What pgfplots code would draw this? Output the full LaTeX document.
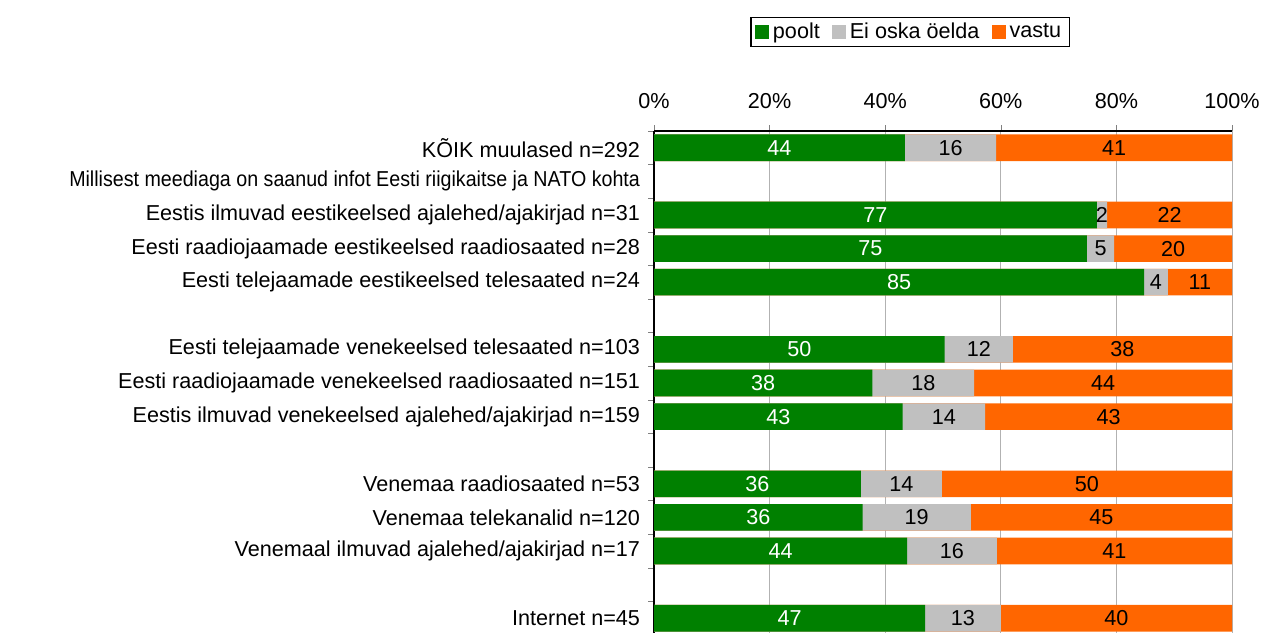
\documentclass[border=0pt]{standalone}
\usepackage{fontspec}
\setmainfont{Liberation Sans}
\usepackage{graphicx}
\usepackage{pgfplots}
\pgfplotsset{compat=1.18}

\definecolor{cpoolt}{HTML}{008000}
\definecolor{cei}{HTML}{C0C0C0}
\definecolor{cvastu}{HTML}{FF6600}

\begin{document}
\begin{tikzpicture}[font=\fontsize{10.8pt}{12pt}\selectfont]
\useasboundingbox (0,0) rectangle (631pt,316pt);
\begin{axis}[
  at={(327pt,250.5pt)}, anchor=north west,
  scale only axis, width=289pt, height=252pt,
  xmin=0, xmax=100, ymin=-0.5, ymax=14.5,
  axis x line*=top, axis y line*=left,
  tick align=outside, major tick length=2.8pt,
  xtick={0,20,...,100},
  xticklabel={\pgfmathprintnumber{\tick}\%},
  /pgf/number format/assume math mode=true,
  xticklabel style={yshift=5pt},
  xmajorgrids, grid style={gray!60, line width=0.5pt},
  ytick={-0.5,0.5,...,14.5}, yticklabels={},
  extra y ticks={0,...,14},
  extra y tick style={major tick length=0pt, yticklabel style={xshift=-3.5pt}},
  extra y tick labels={Internet n=45,,Venemaal ilmuvad ajalehed/ajakirjad n=17,Venemaa telekanalid n=120,Venemaa raadiosaated n=53,,Eestis ilmuvad venekeelsed ajalehed/ajakirjad n=159,Eesti raadiojaamade venekeelsed raadiosaated n=151,Eesti telejaamade venekeelsed telesaated n=103,,Eesti telejaamade eestikeelsed telesaated n=24,Eesti raadiojaamade eestikeelsed raadiosaated n=28,Eestis ilmuvad eestikeelsed ajalehed/ajakirjad n=31,\scalebox{0.91}[1]{Millisest meediaga on saanud infot Eesti riigikaitse ja NATO kohta},KÕIK muulased n=292},
  legend columns=3, reverse legend,
  legend style={at={(0.443,1.196)}, anchor=center, draw=black, line width=0.6pt,
    inner xsep=2pt, inner ysep=0.5pt,
    /tikz/every even column/.append style={column sep=4pt}},
  legend image code/.code={\fill[#1] (0pt,-3.5pt) rectangle (7pt,3.5pt);},
  axis line style={line width=0.6pt},
]
% vastu (drawn to 100)
\addplot[xbar, bar shift=0pt, bar width=13.3pt, fill=cvastu, draw=none] coordinates {
  (100,14) (100,12) (100,11) (100,10) (100,8) (100,7) (100,6) (100,4) (100,3) (100,2) (100,0)};
% Ei oska oelda (cumulative end)
\addplot[xbar, bar shift=0pt, bar width=13.3pt, fill=cei, draw=none] coordinates {
  (59.2,14) (78.4,12) (79.6,11) (88.9,10) (62.1,8) (55.4,7) (57.3,6) (49.8,4) (54.8,3) (59.3,2) (60.0,0)};
% poolt
\addplot[xbar, bar shift=0pt, bar width=13.3pt, fill=cpoolt, draw=none] coordinates {
  (43.4,14) (76.6,12) (74.9,11) (84.8,10) (50.3,8) (37.8,7) (43.0,6) (35.8,4) (36.1,3) (43.8,2) (46.9,0)};
\legend{vastu,Ei oska öelda,poolt}

% value labels
\addplot[forget plot, only marks, mark=none, nodes near coords, point meta=explicit symbolic,
  nodes near coords style={anchor=center, text=white}] coordinates {
  (21.7,14) [44] (38.3,12) [77] (37.45,11) [75] (42.4,10) [85] (25.15,8) [50] (18.9,7) [38]
  (21.5,6) [43] (17.9,4) [36] (18.05,3) [36] (21.9,2) [44] (23.45,0) [47]};
\addplot[forget plot, only marks, mark=none, nodes near coords, point meta=explicit symbolic,
  nodes near coords style={anchor=center, text=black}] coordinates {
  (51.3,14) [16] (77.5,12) [2] (77.25,11) [5] (86.85,10) [4] (56.2,8) [12] (46.6,7) [18]
  (50.15,6) [14] (42.8,4) [14] (45.45,3) [19] (51.55,2) [16] (53.45,0) [13]};
\addplot[forget plot, only marks, mark=none, nodes near coords, point meta=explicit symbolic,
  nodes near coords style={anchor=center, text=black}] coordinates {
  (79.6,14) [41] (89.2,12) [22] (89.8,11) [20] (94.45,10) [11] (81.05,8) [38] (77.7,7) [44]
  (78.65,6) [43] (74.9,4) [50] (77.4,3) [45] (79.65,2) [41] (80.0,0) [40]};
\end{axis}
\end{tikzpicture}
\end{document}
